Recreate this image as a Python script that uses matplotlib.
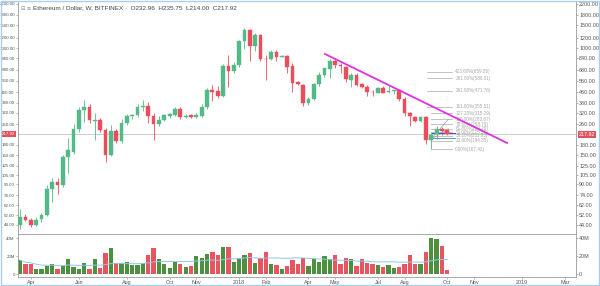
import numpy as np
import pandas as pd
import matplotlib
matplotlib.use("Agg")
import matplotlib.pyplot as plt
import matplotlib.ticker as mticker
import matplotlib.transforms as mtrans
from matplotlib.patches import Rectangle

plt.rcParams["font.family"] = ["Liberation Sans", "DejaVu Sans"]

# weekly ETH/USD candles, first bar = week of 2017-03-20
first_week = "2017-03-20"
opens = [44.0, 50.0, 48.0, 43.5, 48.5, 52.5, 83.0, 93.0, 88.0, 146.0,
         160.0, 240.0, 335.0, 352.0, 275.0, 281.0, 235.0, 152.0, 230.0, 192.0,
         265.0, 300.0, 305.0, 355.0, 360.0, 300.0, 260.0, 282.0, 300.0, 305.0,
         340.0, 297.0, 305.0, 298.0, 302.0, 350.0, 477.0, 465.0, 430.0, 725.0,
         670.0, 745.0, 1130.0, 1380.0, 1040.0, 1265.0, 830.0, 820.0, 935.0, 855.0,
         870.0, 730.0, 545.0, 522.0, 380.0, 405.0, 530.0, 620.0, 690.0, 790.0,
         745.0, 720.0, 570.0, 620.0, 530.0, 500.0, 462.0, 455.0, 495.0, 463.0,
         465.0, 477.0, 410.0, 318.0, 295.0, 275.0, 295.0, 197.0, 220.0, 240.0,
         232.96]
highs = [58.0, 53.0, 49.5, 50.0, 54.0, 89.0, 100.0, 100.0, 150.0, 204.0,
         260.0, 350.0, 400.0, 375.0, 318.0, 292.0, 245.0, 257.0, 240.0, 283.0,
         310.0, 310.0, 375.0, 400.0, 385.0, 320.0, 300.0, 310.0, 320.0, 350.0,
         350.0, 310.0, 312.0, 320.0, 370.0, 490.0, 522.0, 510.0, 760.0, 887.0,
         780.0, 1160.0, 1430.0, 1400.0, 1300.0, 1280.0, 880.0, 960.0, 960.0, 880.0,
         880.0, 770.0, 560.0, 530.0, 420.0, 540.0, 650.0, 710.0, 830.0, 835.0,
         770.0, 730.0, 640.0, 640.0, 540.0, 520.0, 480.0, 505.0, 515.0, 510.0,
         480.0, 485.0, 420.0, 325.0, 300.0, 300.0, 300.0, 225.0, 250.0, 247.0,
         235.75]
lows = [41.0, 46.5, 42.0, 42.5, 46.0, 51.0, 66.0, 76.0, 85.0, 110.0,
        154.0, 225.0, 272.0, 265.0, 196.0, 225.0, 134.0, 148.0, 185.0, 185.0,
        255.0, 285.0, 295.0, 330.0, 265.0, 197.0, 250.0, 275.0, 290.0, 300.0,
        285.0, 292.0, 290.0, 290.0, 295.0, 340.0, 390.0, 415.0, 420.0, 505.0,
        640.0, 720.0, 980.0, 800.0, 950.0, 790.0, 570.0, 810.0, 800.0, 850.0,
        640.0, 460.0, 520.0, 360.0, 365.0, 400.0, 515.0, 600.0, 590.0, 700.0,
        640.0, 550.0, 500.0, 510.0, 490.0, 425.0, 430.0, 450.0, 450.0, 455.0,
        445.0, 395.0, 300.0, 250.0, 270.0, 270.0, 184.0, 167.42, 200.0, 215.0,
        214.0]
closes = [50.0, 48.0, 43.5, 48.0, 52.5, 83.0, 93.0, 88.0, 146.0, 164.0,
          240.0, 335.0, 355.0, 281.0, 282.0, 235.0, 152.0, 230.0, 192.0, 265.0,
          300.0, 305.0, 355.0, 358.0, 300.0, 260.0, 282.0, 305.0, 310.0, 340.0,
          298.0, 303.0, 298.0, 305.0, 350.0, 477.0, 460.0, 430.0, 725.0, 665.0,
          745.0, 1130.0, 1380.0, 1040.0, 1265.0, 820.0, 820.0, 935.0, 860.0, 870.0,
          720.0, 540.0, 530.0, 380.0, 405.0, 530.0, 620.0, 700.0, 790.0, 745.0,
          725.0, 575.0, 620.0, 523.0, 500.0, 460.0, 457.0, 495.0, 455.0, 470.0,
          475.0, 408.0, 315.0, 300.0, 275.0, 295.0, 197.0, 215.0, 240.0, 232.0,
          217.92]
# volume in millions
volume_m = [15.6, 11.0, 11.2, 6.2, 6.2, 9.0, 11.0, 5.5, 9.0, 17.0,
            7.6, 6.2, 12.0, 6.2, 17.0, 6.6, 23.7, 28.8, 12.7, 12.7,
            13.3, 10.0, 10.4, 12.0, 20.8, 29.1, 17.1, 11.2, 7.3, 13.9,
            11.2, 7.7, 9.5, 20.0, 18.2, 22.2, 24.8, 20.8, 30.3, 30.3,
            13.9, 18.2, 20.8, 23.7, 12.4, 18.2, 24.4, 11.0, 10.4, 5.5,
            9.5, 15.6, 11.5, 18.2, 9.5, 17.0, 13.9, 20.0, 17.0, 20.8,
            11.2, 17.7, 16.4, 8.7, 16.4, 12.7, 11.2, 10.0, 8.4, 10.0,
            6.6, 7.7, 11.5, 20.8, 11.5, 11.5, 24.8, 40.8, 39.4, 31.7,
            4.7]

price_ticks = [44, 52, 62, 74, 90, 105, 125, 150, 180, 260, 320, 380, 460,
               560, 680, 840, 1000, 1200, 1500, 1800, 2200]
vol_ticks = [0, 20, 40]
vol_tick_labels = ["0", "20M", "40M"]
month_dates = ["2017-04-03", "2017-06-05", "2017-08-07", "2017-10-02", "2017-11-06",
               "2018-01-01", "2018-02-05", "2018-04-02", "2018-05-07", "2018-07-02",
               "2018-08-06", "2018-10-01", "2018-11-05", "2019-01-07", "2019-03-04"]
month_labels = ["Apr", "Jun", "Aug", "Oct", "Nov", "2018", "Feb", "Apr", "May",
                "Jul", "Aug", "Oct", "Nov", "2019", "Mar"]

last_price = 217.92
title = "Ethereum / Dollar, W, BITFINEX \u00b7  O232.96  H235.75  L214.00  C217.92"

# trend line (week index, price)
trend_x = [57.1, 91.2]
trend_y = [902.0, 186.5]

# fib extension tool
fib_low, fib_high = 167.42, 283.67
fib_ratios = [0, 0.236, 0.382, 0.5, 0.618, 0.786, 1, 1.272, 1.618, 2.618, 3.618, 4.236]
fib_leg_x = [76.8, 80.2, 80.2]
fib_leg_y = [197.0, 283.67, 240.0]
box_lines_y = [223.8, 202.7]

up_col, dn_col = "#53b987", "#eb4d5c"
vup_col, vdn_col = "#4c8f3e", "#e8545f"
axis_col = "#9a9a9a"
text_col = "#555555"
fs = 3.9
fs_left = 3.2

t0 = pd.Timestamp(first_week)
def week_pos(d):
    return (pd.Timestamp(d) - t0).days / 7.0

o = np.array(opens); h = np.array(highs); l = np.array(lows); c = np.array(closes)
vol = np.array(volume_m)
x = np.arange(len(o))
up = c >= o

W, H = 600, 286
def rect(left, top, right, bottom):
    return [left / W, 1 - bottom / H, (right - left) / W, (bottom - top) / H]

fig = plt.figure(figsize=(6, 2.86), dpi=100)
ax = fig.add_axes(rect(18, 1.5, 576, 234))
axv = fig.add_axes(rect(18, 235, 576, 277), sharex=ax)

# candles
cols = np.where(up, up_col, dn_col)
ax.vlines(x, l, h, colors=cols, lw=0.6, zorder=2)
body_lo = np.minimum(o, c)
body_h = np.maximum(np.abs(c - o), body_lo * 0.006)
ax.bar(x, body_h, bottom=body_lo, width=0.7, color=cols, edgecolor=cols,
       linewidth=0.3, zorder=3)

ax.set_yscale("log")
ax.set_ylim(37.2, 2286)
ax.set_xlim(-0.4, 104.1)
ax.yaxis.set_major_locator(mticker.FixedLocator(price_ticks))
ax.yaxis.set_minor_locator(mticker.NullLocator())
ax.yaxis.set_major_formatter(mticker.FuncFormatter(lambda v, p: f"{v:.2f}"))
ax.tick_params(axis="y", which="both", left=True, right=True, labelleft=True,
               labelright=True, length=1.5, width=0.5, color=axis_col,
               labelsize=fs, labelcolor=text_col, pad=0.8)
ax.tick_params(axis="x", bottom=False, labelbottom=False)

# last price line and labels
ax.axhline(last_price, color="#c4c4c4", lw=0.6, zorder=1)
blend = mtrans.blended_transform_factory(ax.transAxes, ax.transData)
ax.text(1.005, last_price, f"{last_price:.2f}", transform=blend, ha="left",
        va="center", fontsize=fs, color="white",
        bbox=dict(facecolor="#e0505c", edgecolor="none", pad=0.8), clip_on=False)
ax.text(-0.005, last_price, f"{last_price:.2f}", transform=blend, ha="right",
        va="center", fontsize=fs_left, color="white",
        bbox=dict(facecolor="#e0505c", edgecolor="none", pad=0.7), clip_on=False)

# trend line
ax.plot(trend_x, trend_y, color="#dd33dd", lw=1.3, zorder=4)

# fib levels
for r in fib_ratios:
    lvl = fib_low + r * (fib_high - fib_low)
    xs = 76.2 if r > 1.5 else 77.0
    ax.plot([xs, 80.9], [lvl, lvl], color="#b8b8b8", lw=0.6, zorder=1)
    ax.text(81.5, lvl, f"{r * 100:.2f}%({lvl:.2f})", fontsize=3.3,
            color="#a8a8a8", va="center", ha="left")
ax.plot(fib_leg_x[:2], fib_leg_y[:2], color="#a0a0a0", lw=0.5, zorder=2)
ax.plot([fib_leg_x[0], fib_leg_x[2]], [fib_leg_y[0], fib_leg_y[2]],
        color="#a0a0a0", lw=0.5, zorder=2)
ax.plot([77.2, 81.5], [box_lines_y[0], box_lines_y[0]], color="#3a55c8", lw=0.7, zorder=2)
ax.plot([77.2, 81.5], [box_lines_y[1], box_lines_y[1]], color="#6f8fe0", lw=0.7, zorder=2)

# volume
vcols = np.where(up, vup_col, vdn_col)
axv.bar(x, vol, width=0.8, color=vcols, zorder=2)
vma = pd.Series(vol).rolling(20, min_periods=1).mean()
axv.plot(x, vma, color="#8ec8ea", lw=0.7, zorder=3)
axv.set_ylim(-3.3, 43.7)
axv.set_yticks(vol_ticks)
axv.set_yticklabels(vol_tick_labels)
axv.tick_params(axis="y", left=True, right=True, labelleft=True, labelright=True,
                length=1.5, width=0.5, color=axis_col, labelsize=fs,
                labelcolor=text_col, pad=0.8)
axv.set_xticks([week_pos(d) for d in month_dates])
axv.set_xticklabels(month_labels)
axv.tick_params(axis="x", length=1.5, width=0.5, color=axis_col, labelsize=fs,
                labelcolor=text_col, pad=0.8)

# smaller labels on the narrow left scale
for a in (ax, axv):
    for t in a.yaxis.get_major_ticks():
        t.label1.set_fontsize(fs_left)

for a in (ax, axv):
    a.set_facecolor("white")
    for s in a.spines.values():
        s.set_color(axis_col)
        s.set_linewidth(0.6)
ax.spines["top"].set_visible(False)
axv.spines["top"].set_visible(False)

fig.text(33 / W, 1 - 8 / H, title, fontsize=4.6, color="#444444", va="center")
fig.text(21 / W, 1 - 8 / H, "\u229f \u2261", fontsize=3.6, color="#888888",
         va="center", family="DejaVu Sans")
fig.patches.append(Rectangle((0.002, 0.003), 0.996, 0.994, transform=fig.transFigure,
                             fill=False, edgecolor="#a9cfee", lw=1.0))

fig.savefig("out.png", dpi=100)
